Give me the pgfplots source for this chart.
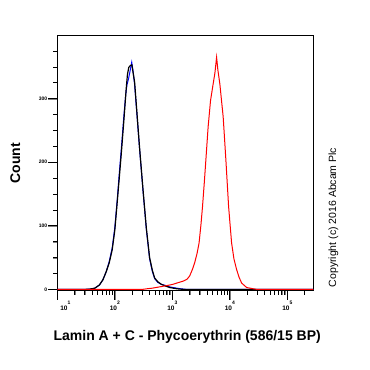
\documentclass[border=0pt]{standalone}
\usepackage{pgfplots}
\pgfplotsset{compat=1.18}
\usepackage{fontspec}
\setmainfont{Liberation Sans}
\begin{document}
\begin{tikzpicture}
\begin{axis}[
  at={(57.3pt,79.3pt)}, anchor=south west,
  scale only axis, width=256pt, height=255.7pt,
  clip=false,
  xmode=log, xmin=10, xmax=283000,
  ymin=-2, ymax=400,
  xtick={10,100,1000,10000,100000},
  xticklabels={\hspace*{16pt}10\raisebox{6.5pt}{\fontsize{5}{5}\selectfont 1},
               10\raisebox{6.5pt}{\fontsize{5}{5}\selectfont 2},
               10\raisebox{6.5pt}{\fontsize{5}{5}\selectfont 3},
               10\raisebox{6.5pt}{\fontsize{5}{5}\selectfont 4},
               10\raisebox{6.5pt}{\fontsize{5}{5}\selectfont 5}},
  ytick={0,100,200,300},
  yticklabels={0,100,200,300},
  minor y tick num=3,
  xtick align=outside, ytick align=outside,
  xtick pos=left, ytick pos=left,
  major tick length=9pt, minor tick length=4pt,
  xticklabel style={font=\fontsize{6.5}{6.5}\selectfont\bfseries, inner sep=1pt},
  yticklabel style={font=\fontsize{5}{5}\selectfont\bfseries, inner sep=1pt},
]
\addplot[blue, line width=1pt] coordinates {
(10,0) (30,0) (37,0.5) (45,2) (54,7) (62,15) (71,28) (80,44) (90,65) (100,97)
(110,140) (120,184) (129,218) (143,270) (155,307) (163,322) (172,330) (185,344)
(197,357) (207,344) (221,322) (242,276) (270,220) (308,157) (353,95) (403,48)
(450,28) (493,17) (560,11) (645,8) (780,6) (900,4) (1100,2.5) (1400,1) (1800,0) (283000,0)
};
\addplot[black, line width=1.2pt] coordinates {
(10,0) (30,0) (37,0.5) (45,2) (54,7) (62,15) (71,28) (80,42) (90,62) (100,93)
(113,149) (129,211) (143,263) (158,316) (166,338) (175,349) (186,352) (198,353)
(208,341) (221,326) (242,279) (270,222) (308,159) (353,97) (403,50) (450,30)
(493,18) (560,12) (645,8) (780,5) (900,3) (1200,1) (1600,0) (283000,0)
};
\addplot[red, line width=1pt] coordinates {
(10,0) (300,0) (360,1) (450,2) (600,4) (800,6) (1020,8) (1300,11) (1540,13)
(1800,16) (2000,21) (2250,32) (2450,42) (2700,57) (2920,73) (3150,102) (3350,130)
(3600,168) (3830,203) (4200,256) (4620,297) (5130,323) (5500,340) (5890,365)
(6200,345) (6710,323) (7670,271) (8550,203) (9530,130) (10740,73) (11800,48)
(13150,31) (14500,19) (16070,10) (19630,3) (25700,1) (30000,0) (283000,0)
};
\pgfplotsinvokeforeach{10,100,1000,10000,100000}{
  \draw[black, line width=1.1pt] (axis cs:#1,-2) -- ++(0pt,-9pt);
}
\pgfplotsinvokeforeach{20,30,40,50,60,70,80,90,200,300,400,500,600,700,800,900,2000,3000,4000,5000,6000,7000,8000,9000,20000,30000,40000,50000,60000,70000,80000,90000,200000}{
  \draw[black, line width=0.6pt] (axis cs:#1,-2) -- ++(0pt,-4pt);
}
\pgfplotsinvokeforeach{0,100,200,300}{
  \draw[black, line width=1.1pt] (axis cs:10,#1) -- ++(-9pt,0pt);
}
\pgfplotsinvokeforeach{25,50,75,125,150,175,225,250,275,325,350,375}{
  \draw[black, line width=0.6pt] (axis cs:10,#1) -- ++(-4pt,0pt);
}
\end{axis}
\path (0pt,0pt) rectangle (370pt,370pt);
\node[rotate=90, font=\fontsize{14}{14}\selectfont\bfseries] at (15.3pt,206.7pt) {Count};
\node[anchor=base, font=\fontsize{14}{14}\selectfont\bfseries] at (187.2pt,29.3pt) {Lamin A + C - Phycoerythrin (586/15 BP)};
\node[rotate=90, font=\fontsize{10.5}{10.5}\selectfont] at (333.3pt,152.5pt) {Copyright (c) 2016 Abcam Plc};
\end{tikzpicture}
\end{document}
